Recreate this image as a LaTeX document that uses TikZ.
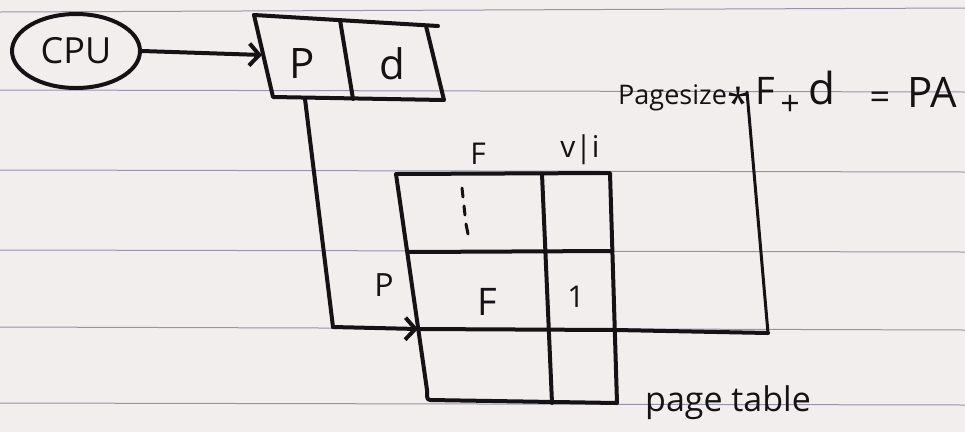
\documentclass[tikz,border=0pt]{standalone}
\usepackage{fontspec}
\setmainfont{Open Sans}
\usetikzlibrary{arrows.meta,shapes.geometric}
\definecolor{paper}{RGB}{242,238,238}
\definecolor{rulec}{RGB}{150,148,170}
\definecolor{inkc}{RGB}{20,18,20}
\tikzset{
  ink/.style={line width=4pt, line join=round, line cap=round, draw=inkc},
  ruleline/.style={line width=1pt, draw=rulec},
  barb/.style={-{Straight Barb[length=10pt,width=22pt,line width=4pt]}},
  hw/.style={inner sep=0pt, text=inkc},
}
\newcommand{\fsz}[1]{\fontsize{#1}{#1}\selectfont}
\begin{document}
\begin{tikzpicture}[x=1pt,y=-1pt]
\fill[paper] (0,0) rectangle (965,432);
\useasboundingbox (0,0) rectangle (965,432);
% ruled paper lines
\foreach \yl/\yr in {12/8, 90/92, 170/172, 250/252, 327/330, 403/405}
  \draw[ruleline] (0,\yl) -- (965,\yr);

% CPU
\node[ellipse, ink, minimum width=128pt, minimum height=74pt, hw, font=\fsz{36}] (cpu) at (76,51) {CPU};

% logical address box
\coordinate (atl) at (254,15);
\coordinate (atr) at (438,26);
\coordinate (abr) at (444,100);
\coordinate (abl) at (273,97);
\draw[ink] (atl) -- (atr);
\draw[ink] (atl) -- (abl) -- (abr) -- (426,26);
\draw[ink] (340,20) -- (353,99);
\node[hw, font=\fsz{42}] (pcell) at (302,64) {P};
\node[hw, font=\fsz{42}] (dcell) at (392,64) {d};
\coordinate (ain) at (262,55);
\draw[ink, barb] (cpu.east) -- (ain);

% page table
\coordinate (ttl) at (396,174);
\coordinate (ttr) at (610,173);
\coordinate (tbr) at (617,403);
\coordinate (tbl) at (430,400);
\draw[ink] (ttl) -- (ttr) -- (tbr) -- (tbl) to[out=180,in=-85] (427,390) -- (ttl);
\draw[ink] (542,174) -- (552,403);
\draw[ink] (408,252) -- (612,251);
\coordinate (rowin) at (418,329);
\coordinate (rowend) at (768,333);
\draw[ink] (rowin) -- (616,330) -- (rowend);

% headings and entries
\node[hw, font=\fsz{30}] (fhead) at (478,154) {F};
\node[hw, font=\fsz{30}] (vihead) at (580,150) {v|i};
\draw[ink, line width=3pt] (462,188) -- (463,197);
\draw[ink, line width=3pt] (464,206) -- (465,215);
\draw[ink, line width=3pt] (466,224) -- (468,234);
\node[hw, font=\fsz{38}] (fentry) at (487,302) {F};
\node[hw, font=\fsz{30}] (vientry) at (576,297) {1};
\node[hw, font=\fsz{32}] (prow) at (384,285) {P};
\node[hw, font=\fsz{34}] (ptlabel) at (728,403) {page table};

% path from p to row
\coordinate (pbot) at (305,99);
\coordinate (pcorner) at (333,327);
\draw[ink] (pbot) -- (pcorner);
\draw[ink, barb] (pcorner) -- (rowin);

% formula
\node[hw, font=\fsz{27}, anchor=base west] (psize) at (618,104) {Pagesize};
\node[hw, font=\fsz{40}] (star) at (739,102) {*};
\node[hw, font=\fsz{38}] (fterm) at (765,91) {F};
\node[hw, font=\fsz{34}] (plus) at (790,105) {+};
\node[hw, font=\fsz{44}] (dterm) at (822,88) {d};
\node[hw, font=\fsz{36}] (eq) at (880,101) {=};
\node[hw, font=\fsz{42}] (pa) at (932,92) {PA};
\coordinate (ftop) at (747,92);
\draw[ink, line width=3pt] (ftop) -- (rowend);
\end{tikzpicture}
\end{document}
